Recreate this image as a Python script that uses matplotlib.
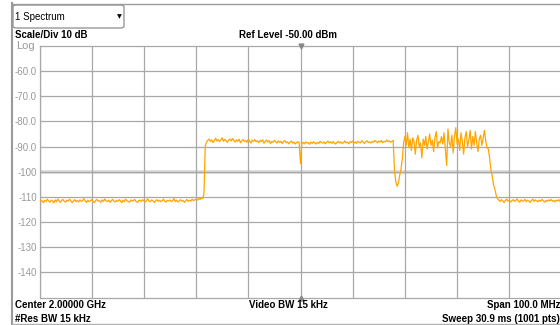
import numpy as np
import matplotlib
matplotlib.use("Agg")
from matplotlib import pyplot as plt
from matplotlib.patches import FancyBboxPatch

# sweep setup
center_mhz = 2000.0
span_mhz = 100.0
ref_level = -50.0
div_db = 10.0

# trace levels in dBm, evenly spaced over the span (0.25 MHz per point)
low_left = [
    -111.9, -111.2, -111.7, -112.3, -111.4, -111.8, -110.9, -111.6, -112.1, -111.3,
    -111.7, -112.4, -111.2, -111.9, -110.8, -111.6, -112.2, -111.4, -111.0, -111.8,
    -112.1, -111.3, -111.7, -110.9, -111.5, -112.3, -111.6, -111.1, -111.9, -111.4,
    -112.0, -111.2, -111.8, -111.5, -110.7, -111.6, -112.2, -111.3, -111.9, -111.5,
    -111.1, -111.8, -112.3, -111.4, -111.0, -111.7, -111.5, -112.1, -111.2, -111.8,
    -110.8, -111.6, -111.9, -111.3, -112.2, -111.5, -111.0, -111.7, -112.0, -111.4,
    -111.8, -111.1, -111.6, -112.3, -111.3, -111.9, -110.9, -111.5, -111.8, -112.1,
    -111.2, -111.7, -111.4, -111.0, -111.9, -112.2, -111.5, -111.3, -111.8, -111.1,
    -111.6, -112.0, -111.4, -110.8, -111.7, -111.9, -111.2, -111.6, -112.3, -111.5,
    -111.1, -111.8, -111.3, -111.9, -111.5, -110.9, -111.7, -112.1, -111.4, -111.6,
    -111.2, -111.9, -111.5, -110.7, -111.8, -111.3, -112.0, -111.6, -111.1, -111.7,
    -111.4, -112.2, -111.5, -111.0, -111.8, -111.3, -111.6, -110.9, -111.5, -111.2,
    -110.8, -111.3, -110.6, -111.0, -110.4, -110.7,
]
rise = [-109.0, -90.0]
carrier_a = [
    -88.2, -87.5, -87.0, -87.9, -87.3, -88.4, -87.6, -86.7, -87.8, -87.2,
    -88.0, -87.4, -86.5, -87.9, -87.1, -87.7, -88.3, -87.4, -87.0, -87.8,
    -86.8, -87.6, -88.2, -87.3, -87.9, -87.1, -88.5, -87.6, -87.2, -88.0,
    -87.5, -88.3, -87.0, -87.8, -88.6, -87.4, -87.9, -87.2, -88.1, -87.7,
    -88.4, -87.5, -88.0, -87.3, -88.7, -87.8, -87.4, -88.2, -87.6, -88.9,
    -87.9, -88.3, -87.5, -88.1, -88.6, -87.7, -88.4, -87.9, -88.8, -88.0,
    -87.6, -88.5, -88.1, -88.9, -88.3, -87.8, -88.6, -88.2, -89.0, -88.4,
    -88.0, -88.7, -96.8, -88.8, -88.3, -88.9, -88.1, -88.6, -88.4, -89.1,
    -88.2, -88.7, -88.0, -88.5, -89.0, -88.3, -88.8, -87.9, -88.4, -88.6,
    -88.1, -88.9, -88.3, -87.8, -88.5, -88.2, -88.7, -88.0, -88.6, -89.0,
    -88.3, -87.9, -88.6, -88.1, -88.8, -88.4, -87.7, -88.5, -88.2, -88.9,
    -88.0, -88.4, -87.8, -88.6, -88.1, -88.7, -87.9, -88.3, -88.5, -87.6,
    -88.2, -88.8, -88.0, -87.7, -88.4, -88.1, -88.6, -87.9, -88.3, -87.5,
    -88.0, -88.5, -87.8, -88.2, -87.6, -88.4, -87.9, -88.1, -87.4, -88.0,
    -87.7, -88.3, -87.9, -87.5,
]
gap_dip = [-99.0, -104.0, -105.8, -104.5, -101.5, -99.0, -95.0]
carrier_b = [
    -88.5, -86.0, -89.5, -84.5, -90.5, -87.0, -91.5, -86.5, -88.0, -93.0,
    -87.5, -85.5, -90.0, -88.5, -94.5, -87.0, -89.5, -86.0, -91.0, -88.0,
    -85.0, -89.5, -87.5, -92.0, -86.5, -84.0, -90.5, -88.0, -88.5, -86.0,
    -89.0, -84.5, -91.0, -97.5, -83.0, -88.5, -90.0, -85.5, -92.5, -86.0,
    -82.5, -89.0, -87.0, -91.5, -84.5, -88.0, -93.0, -86.5, -84.0, -90.0,
    -87.5, -83.5, -91.0, -86.0, -89.5, -84.0, -88.5, -92.0, -87.0, -85.5,
    -89.5, -86.5, -83.5, -88.0, -90.5,
]
roll_off = [-91.0, -95.0, -99.5, -102.0, -105.5, -107.0, -109.5, -110.8]
low_right = [
    -111.3, -111.8, -111.1, -111.6, -112.2, -111.4, -110.9, -111.7, -111.3, -112.0,
    -111.5, -111.1, -111.8, -111.4, -110.8, -111.6, -112.1, -111.2, -111.7, -111.5,
    -111.0, -111.9, -111.3, -111.6, -112.2, -111.4, -110.9, -111.8, -111.2, -111.6,
    -111.9, -111.3, -111.7, -111.0, -111.5, -112.1, -111.4, -111.8, -111.2, -111.6,
    -111.0, -111.7, -111.4, -111.9, -111.3, -111.6, -111.1, -111.8, -111.5,
]

levels = np.array(low_left + rise + carrier_a + gap_dip + carrier_b + roll_off + low_right)
f_start = center_mhz - span_mhz / 2
f_stop = center_mhz + span_mhz / 2
freqs = np.linspace(f_start, f_stop, len(levels))

y_ticks = [-60, -70, -80, -90, -100, -110, -120, -130, -140]
y_tick_labels = ["-60.0", "-70.0", "-80.0", "-90.0", "-100", "-110", "-120", "-130", "-140"]

plt.rcParams["font.family"] = ["Liberation Sans", "DejaVu Sans"]

W, H = 560, 325
fig = plt.figure(figsize=(W / 100, H / 100), dpi=100)
fig.patch.set_facecolor("white")


def fx(px):
    return px / W


def fy(py):
    return 1 - py / H


ax = fig.add_axes([fx(39.5), fy(297.5), fx(522), 251.5 / H])
ax.set_xlim(f_start, f_stop)
ax.set_ylim(ref_level - 10 * div_db, ref_level)
ax.set_xticks(np.arange(f_start, f_stop + 1, span_mhz / 10))
ax.set_yticks(y_ticks)
ax.set_yticklabels(y_tick_labels)
ax.tick_params(axis="x", length=0, labelbottom=False)
ax.tick_params(axis="y", length=0, pad=2, labelsize=7, labelcolor="#9a9a9a")
ax.grid(True, color="#a8a8a8", lw=0.9)
for s in ax.spines.values():
    s.set_color("#a8a8a8")
    s.set_linewidth(0.9)
ax.axhline(-100, color="#d9d9d9", lw=2.6, zorder=1.5)

ax.plot(freqs, levels, color="#FFA500", lw=0.9, zorder=3)

# center markers on top and bottom edges
ax.plot([center_mhz], [ref_level], marker="v", color="#888888", ms=3.5, clip_on=False, zorder=4)
ax.plot([center_mhz], [ref_level - 10 * div_db], marker="^", color="#888888", ms=3.5, clip_on=False, zorder=4)

# window frame
fig.add_artist(plt.Line2D([fx(12), fx(12)], [fy(3), fy(325)], color="#9a9a9a", lw=1.5))
fig.add_artist(plt.Line2D([fx(12), 1], [fy(4), fy(4)], color="#9a9a9a", lw=1.0))
fig.add_artist(plt.Line2D([fx(12), 1], [fy(323.5), fy(323.5)], color="#b0b0b0", lw=1.0))

box = FancyBboxPatch((fx(13), fy(28)), fx(111), 23 / H,
                     boxstyle="round,pad=0,rounding_size=0.006",
                     transform=fig.transFigure, facecolor="white",
                     edgecolor="#8c8c8c", lw=0.9)
fig.add_artist(box)
fig.text(fx(15), fy(16.5), "1 Spectrum", fontsize=7, va="center", ha="left")
fig.text(fx(119), fy(16.5), "\u25BC", fontsize=4.5, va="center", ha="center",
         family=["DejaVu Sans"])

fig.text(fx(15), fy(35), "Scale/Div 10 dB", fontsize=7, weight="bold", va="center")
fig.text(fx(288), fy(35), "Ref Level -50.00 dBm", fontsize=7, weight="bold",
         va="center", ha="center")
fig.text(fx(16), fy(46), "Log", fontsize=8, color="#9a9a9a", va="center")

fig.text(fx(15), fy(305.5), "Center 2.00000 GHz", fontsize=7, weight="bold", va="center")
fig.text(fx(15), fy(319), "#Res BW 15 kHz", fontsize=7, weight="bold", va="center")
fig.text(fx(288), fy(305.5), "Video BW 15 kHz", fontsize=7, weight="bold",
         va="center", ha="center")
fig.text(fx(487), fy(305.5), "Span 100.0 MHz", fontsize=7, weight="bold", va="center")
fig.text(fx(442), fy(319), "Sweep 30.9 ms (1001 pts)", fontsize=7, weight="bold", va="center")

fig.savefig("out.png", dpi=100)
